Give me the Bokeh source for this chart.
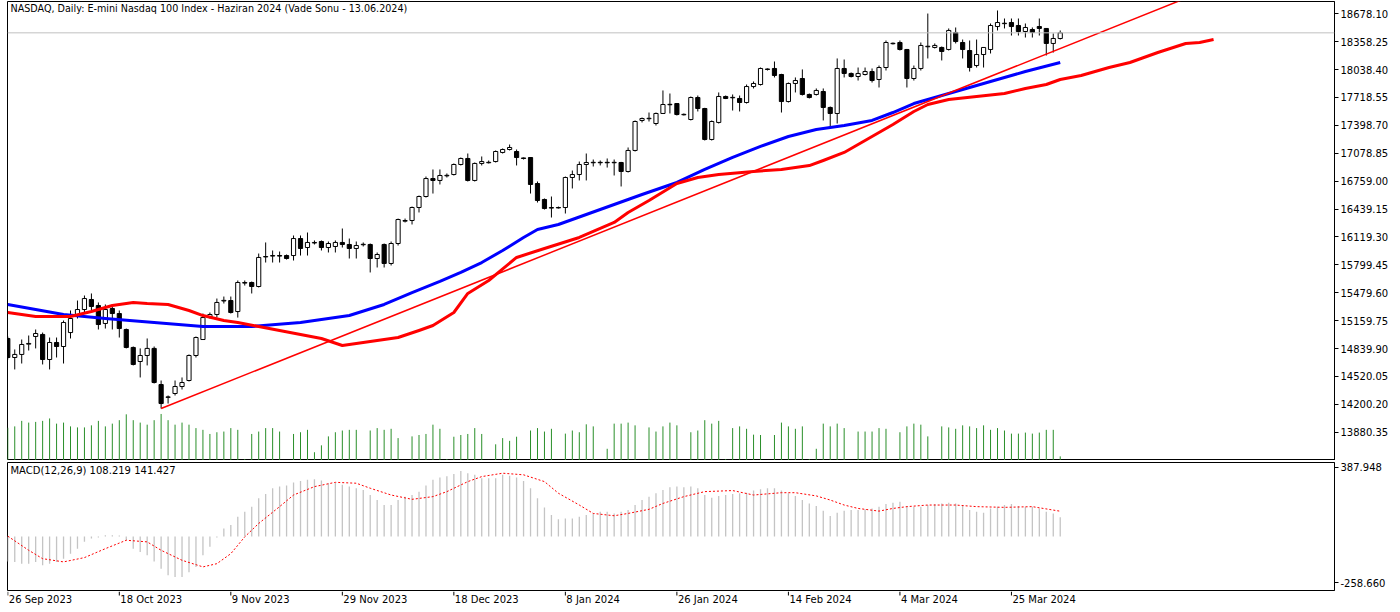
from bokeh.plotting import figure
from bokeh.models import Range1d, LinearAxis, FixedTicker, Span, Label, PrintfTickFormatter
from bokeh.layouts import column
from bokeh.embed import file_html
from bokeh.resources import INLINE
from bokeh.core.properties import value

# ---------------- data ----------------
opens = [14955,14737,14772,14890,14978,15001,14714,14909,14863,15023,15218,15287,15402,15333,15127,15299,15241,15058,14852,14691,
         14760,14841,14427,14280,14324,14404,14473,14760,14943,15195,15230,15385,15390,15264,15590,15597,15551,15890,15900,15906,
         15906,15906,16101,15998,16050,16067,15998,16010,16056,16033,15987,16030,16033,15872,16033,15815,16044,16300,16308,16457,
         16583,16789,16767,16820,16835,16950,17019,16767,16962,16970,16984,17088,17122,17099,17025,17030,16732,16549,16450,16457,
         16457,16801,16835,16950,16970,16975,16975,16970,16973,16870,17111,17455,17475,17420,17535,17640,17649,17520,17466,17718,
         17592,17237,17432,17730,17715,17707,17661,17844,17867,18045,18051,17982,17672,17879,17936,17753,17753,17787,17604,17535,
         18051,17994,17959,17982,18016,17925,18062,18335,18349,18269,17936,18051,18300,18292,18292,18269,18464,18349,18257,18085,
         18211,18269,18532,18565,18578,18544,18475,18498,18532,18510,18338,18395]
highs = [14978,14829,14943,14989,15058,15023,14966,14966,15161,15276,15390,15448,15471,15368,15345,15333,15276,15069,14863,14841,
         14955,14863,14473,14301,14473,14508,14772,14978,15241,15253,15413,15436,15436,15620,15620,15608,15929,16056,15964,15952,
         15918,16136,16136,16170,16079,16079,16067,16079,16216,16101,16067,16056,16044,15941,16044,16067,16330,16330,16468,16594,
         16812,16893,16893,16847,16962,17030,17076,16973,17042,16996,17111,17134,17179,17122,17030,17035,16755,16560,16583,16468,
         16812,16881,16984,17076,17007,16996,17019,17007,16980,17145,17455,17489,17546,17546,17799,17764,17655,17535,17730,17741,
         17600,17455,17776,17741,17753,17741,17867,17902,18062,18051,18131,17990,17890,17948,18040,17764,17822,17822,17615,18166,
         18154,18005,18062,18062,18051,18085,18372,18349,18372,18275,18085,18349,18681,18338,18303,18510,18521,18383,18372,18383,
         18292,18567,18716,18624,18624,18624,18567,18521,18624,18515,18452,18487]
lows = [14714,14600,14668,14817,14841,14657,14600,14737,14668,14955,15184,15241,15264,15058,15069,15058,14966,14841,14646,14508,
        14646,14439,14152,14209,14301,14370,14462,14737,14943,15184,15195,15356,15241,15195,15562,15471,15540,15826,15826,15826,
        15860,15849,15906,15906,16033,15964,15941,15941,15998,15872,15872,16010,15712,15769,15769,15792,16021,16285,16262,16400,
        16571,16617,16721,16801,16824,16939,16755,16755,16939,16962,16973,17076,17111,16939,17007,16617,16514,16434,16342,16445,
        16388,16675,16767,16767,16927,16939,16915,16824,16698,16858,17099,17432,17443,17397,17535,17535,17512,17512,17455,17558,
        17225,17225,17420,17700,17569,17558,17649,17822,17856,18028,17948,17546,17661,17776,17741,17707,17741,17455,17374,17420,
        17948,17948,17913,17971,17890,17833,18028,18326,18257,17833,17913,18028,18166,18280,18143,18257,18338,18166,18016,18062,
        18062,18223,18487,18510,18429,18429,18406,18406,18429,18200,18234,18383]
closes = [14737,14772,14886,14898,15012,14714,14909,14863,15138,15184,15287,15413,15322,15115,15287,15241,15069,14852,14657,14760,
          14841,14450,14209,14285,14404,14450,14760,14966,15195,15230,15368,15392,15253,15597,15597,15551,15884,15895,15906,15900,
          15872,16101,15987,16056,16056,15998,16044,16056,16033,15987,16021,16035,15872,15918,15815,16044,16319,16308,16457,16583,
          16789,16767,16824,16826,16950,17019,16767,16962,16984,16975,17099,17122,17145,17030,17019,16721,16537,16445,16457,16452,
          16801,16835,16950,16973,16975,16970,16970,16975,16870,17111,17443,17477,17480,17535,17638,17635,17523,17525,17718,17592,
          17237,17443,17730,17707,17720,17661,17844,17879,18051,18040,17971,17672,17879,17913,17753,17718,17799,17604,17535,18051,
          17994,17959,17994,18016,17913,18062,18349,18340,18269,17936,18051,18315,18306,18315,18246,18487,18360,18269,18062,18211,
          18292,18544,18578,18570,18532,18475,18521,18464,18510,18338,18395,18459.75]
volumes = [95,99,115,110,112,115,122,107,110,99,96,96,102,115,99,107,117,134,117,110,
           104,117,135,117,104,110,104,94,89,77,82,84,94,89,4,77,84,94,94,84,
           0,77,82,89,24,44,70,82,87,89,89,0,87,94,89,92,65,0,70,74,
           77,104,92,4,69,74,77,94,77,0,47,65,57,69,0,87,94,84,92,0,
           78,87,82,105,99,0,34,107,107,110,102,0,96,84,99,110,102,0,82,87,
           117,107,115,4,94,99,92,75,74,0,74,110,99,92,99,4,34,107,99,107,
           94,0,84,84,84,94,92,0,82,99,107,104,70,0,99,96,92,102,99,94,
           102,89,94,87,78,78,81,78,81,89,89,12]
macd_main = [-140,-142,-152,-152,-142,-161,-152,-142,-124,-96,-68,-30,-11,-5,7,7,5,-20,-68,-86,
             -105,-140,-180,-217,-227,-227,-200,-170,-105,-58,-5,45,64,110,139,167,214,238,270,279,
             285,302,311,317,320,313,298,300,289,279,270,260,232,204,176,176,204,223,232,251,
             285,317,330,337,349,367,354,345,326,326,326,345,340,330,311,270,214,162,120,96,
             101,101,110,120,129,139,139,129,139,148,176,204,223,242,260,275,279,275,279,270,
             232,217,227,232,238,242,245,257,264,270,270,257,242,227,204,185,170,144,114,133,
             144,148,148,152,157,167,182,189,195,170,167,167,176,182,185,189,185,176,148,139,
             133,157,167,176,182,170,167,167,157,139,129,108.219]
signal_idx = [0,3,5,8,11,14,17,20,22,25,28,30,32,34,36,39,41,44,47,50,52,55,58,61,63,66,68,71,74,77,79,82,84,87,89,92,94,97,
              100,104,107,111,113,116,118,120,122,125,127,129,132,136,139,143,147,151]
signal_val = [2,-77,-124,-142,-118,-68,-21,-30,-77,-133,-170,-152,-96,-2,73,167,232,279,303,298,270,232,208,223,251,307,335,354,345,307,242,176,129,116,129,152,185,223,
              251,257,232,245,245,227,204,176,157,142,157,167,176,176,167,163,167,141.427]
blue_idx = [0,8,14,21,28,35,42,49,54,58,62,65,68,71,74,76,79,83,87,91,96,100,104,108,112,116,120,124,127,130,134,138,142,146,151]
blue_val = [15345,15230,15184,15138,15092,15092,15138,15218,15345,15482,15609,15712,15826,15964,16113,16205,16262,16377,16491,16606,
            16744,16893,17031,17157,17271,17351,17397,17455,17546,17649,17741,17833,17925,18016,18120]
red_idx = [0,4,9,12,15,18,20,23,26,28,31,33,36,39,42,45,48,51,53,56,59,61,64,66,69,73,77,82,87,89,92,96,99,102,107,111,115,117,
           120,122,124,127,130,132,135,139,143,146,149,151,154,158,161,165,169,171,173]
red_val = [15253,15207,15207,15264,15333,15368,15356,15345,15276,15218,15161,15138,15092,15047,15001,14955,14875,14909,14932,14966,
           15047,15104,15253,15471,15620,15884,15987,16113,16285,16400,16537,16732,16801,16835,16870,16893,16938,16996,
           17088,17179,17271,17409,17558,17638,17695,17730,17764,17822,17867,17925,17971,18062,18120,18234,18338,18349,18383]
trend_idx = [22, 149]
trend_val = [14152, 18216]
price_ticks = [13880.35,14200.20,14520.05,14839.90,15159.75,15479.60,15799.45,16119.30,16439.15,16759.00,
               17078.85,17398.70,17718.55,18038.40,18358.25,18678.10]
last_price = 18459.75
macd_ticks = [387.948, -258.660]
date_idx = [0,16,32,48,64,80,96,112,128,144]
date_labels = ["26 Sep 2023","18 Oct 2023","9 Nov 2023","29 Nov 2023","18 Dec 2023",
               "8 Jan 2024","26 Jan 2024","14 Feb 2024","4 Mar 2024","25 Mar 2024"]
title_text = "NASDAQ, Daily:  E-mini Nasdaq 100 Index - Haziran 2024 (Vade Sonu - 13.06.2024)"
macd_text = "MACD(12,26,9) 108.219 141.427"

FONT = "DejaVu Sans"
n = len(closes)
idx = list(range(n))
xr = Range1d(-0.04, 190.35)

# ---------------- main panel ----------------
p = figure(width=1400, height=460, x_range=xr, y_range=Range1d(13555.8, 18819.1),
           output_backend="svg", toolbar_location=None, x_axis_type=None, y_axis_type=None,
           min_border_left=7, min_border_right=66, min_border_top=1, min_border_bottom=0,
           outline_line_color="#000000", background_fill_color="white", border_fill_color="white")
p.grid.visible = False

p.extra_y_ranges = {"vol": Range1d(0, 1332)}
p.segment(x0=idx, y0=[0]*n, x1=idx, y1=volumes, y_range_name="vol", line_color="#2a8f2a", line_width=1)

p.segment(x0=idx, y0=lows, x1=idx, y1=highs, line_color="#000000", line_width=1)
tops = [max(o, c) for o, c in zip(opens, closes)]
bots = [min(o, c) for o, c in zip(opens, closes)]
fills = ["#ffffff" if c >= o else "#000000" for o, c in zip(opens, closes)]
p.vbar(x=idx, width=0.6, top=tops, bottom=bots, fill_color=fills, line_color="#000000", line_width=1)

p.line(blue_idx, blue_val, line_color="#0000ff", line_width=3, line_join="round")
p.line(red_idx, red_val, line_color="#ff0000", line_width=3, line_join="round")
slope = (trend_val[1] - trend_val[0]) / (trend_idx[1] - trend_idx[0])
p.line([trend_idx[0], 200], [trend_val[0], trend_val[0] + slope * (200 - trend_idx[0])],
       line_color="#ff0000", line_width=1.5)

p.add_layout(Span(location=last_price, dimension="width", line_color="#c0c0c0", line_width=1))

ax = LinearAxis(ticker=FixedTicker(ticks=price_ticks), formatter=PrintfTickFormatter(format="%.2f"))
ax.major_tick_out = 4
ax.major_tick_in = 0
ax.major_label_standoff = 2
ax.major_label_text_font = FONT
ax.major_label_text_font_size = "10px"
ax.major_label_text_color = "#000000"
ax.axis_line_color = "#000000"
ax.major_tick_line_color = "#000000"
p.add_layout(ax, "right")

p.add_layout(Label(x=190.75, y=last_price, text="18459.75", text_font=FONT, text_font_size="10px",
                   text_color="#ffffff", background_fill_color="#b4b4b4", text_baseline="middle",
                   text_align="left"))
p.add_layout(Label(x=0.39, y=18739, text=title_text, text_font=FONT, text_font_size="9.6px",
                   text_color="#000000", text_baseline="middle", text_align="left"))

# ---------------- MACD panel ----------------
m = figure(width=1400, height=131, x_range=xr, y_range=Range1d(-302.0, 413.9),
           output_backend="svg", toolbar_location=None, x_axis_type=None, y_axis_type=None,
           min_border_left=7, min_border_right=66, min_border_top=2, min_border_bottom=1,
           outline_line_color="#000000", background_fill_color="white", border_fill_color="white")
m.grid.visible = False
m.segment(x0=idx, y0=[0]*n, x1=idx, y1=macd_main, line_color="#c4c4c4", line_width=1.3)
m.line(signal_idx, signal_val, line_color="#ff0000", line_width=1, line_dash="2 2")
max_ = LinearAxis(ticker=FixedTicker(ticks=macd_ticks), formatter=PrintfTickFormatter(format="%.3f"))
max_.major_tick_out = 4
max_.major_tick_in = 0
max_.major_label_standoff = 2
max_.major_label_text_font = FONT
max_.major_label_text_font_size = "10px"
max_.major_label_text_color = "#000000"
max_.axis_line_color = "#000000"
max_.major_tick_line_color = "#000000"
m.add_layout(max_, "right")
m.add_layout(Label(x=0.39, y=369, text=macd_text, text_font=FONT, text_font_size="10px",
                   text_color="#000000", text_baseline="middle", text_align="left"))

# ---------------- date row ----------------
d = figure(width=1400, height=21, x_range=xr, y_range=Range1d(0, 21),
           output_backend="svg", toolbar_location=None, x_axis_type=None, y_axis_type=None,
           min_border_left=7, min_border_right=66, min_border_top=0, min_border_bottom=0,
           outline_line_color=None, background_fill_color="white", border_fill_color="white")
d.grid.visible = False
d.segment(x0=date_idx, y0=[21]*len(date_idx), x1=date_idx, y1=[17]*len(date_idx), line_color="#000000", line_width=1)
d.text(x=date_idx, y=[13]*len(date_idx), text=date_labels, text_font=value(FONT), text_font_size="10px",
       text_align="left", text_baseline="middle", text_color="#000000", x_offset=1)

layout = column(p, m, d, spacing=0)
open("out.html", "w").write(file_html(layout, INLINE))
